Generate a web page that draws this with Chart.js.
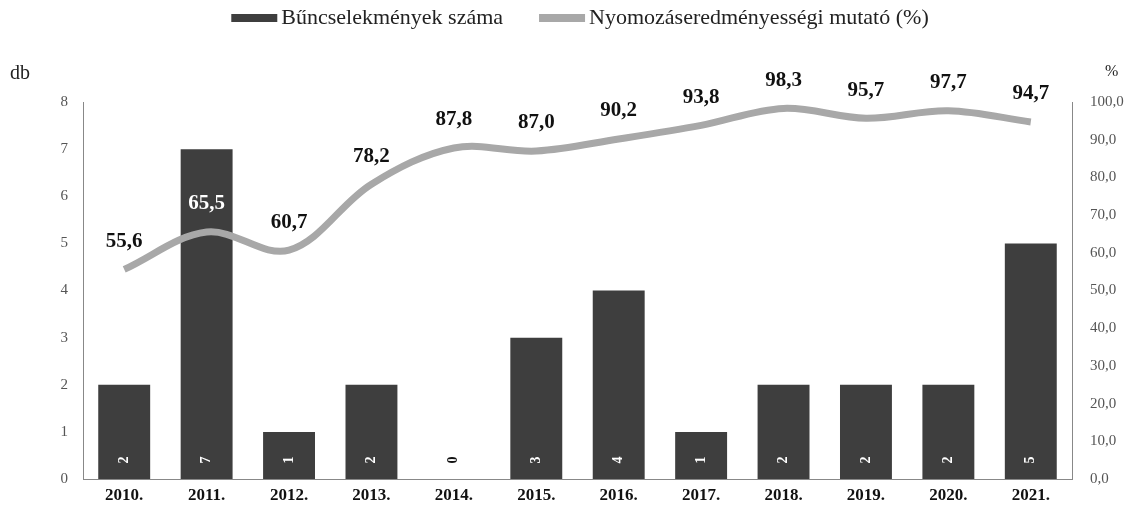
<!DOCTYPE html>
<html><head><meta charset="utf-8">
<style>html,body{margin:0;padding:0;background:#fff}#wrap{width:1134px;height:510px;position:relative}</style>
<script src="https://cdn.jsdelivr.net/npm/chart.js@4/dist/chart.umd.min.js"></script>
</head><body><div id="wrap"><canvas id="c" width="1134" height="510"></canvas></div>
<script>
const categories = ['2010.','2011.','2012.','2013.','2014.','2015.','2016.','2017.','2018.','2019.','2020.','2021.'];
const crimeCounts = [2,7,1,2,0,3,4,1,2,2,2,5];
const clearanceRate = [55.6,65.5,60.7,78.2,87.8,87.0,90.2,93.8,98.3,95.7,97.7,94.7];
const seriesNames = ['Bűncselekmények száma','Nyomozáseredményességi mutató (%)'];
const axisTitles = ['db','%'];

const SERIF = '"Liberation Serif", "DejaVu Serif", serif';
const BAR_COLOR = '#3e3e3e';
const LINE_COLOR = '#a8a8a8';
const fmt1 = v => v.toFixed(1).replace('.', ',');

const legendPlugin = {
  id: 'customLegend',
  afterDraw(chart) {
    const ctx = chart.ctx;
    ctx.save();
    ctx.font = '22px ' + SERIF;
    ctx.textBaseline = 'middle';
    ctx.textAlign = 'left';
    const colors = [BAR_COLOR, LINE_COLOR];
    const items = chart.data.datasets.map((ds, i) => ({ text: ds.label, color: colors[i] }));
    const boxW = 46, boxH = 8, gapBT = 4, gapItems = 36;
    let total = 0;
    items.forEach((it, i) => { it.w = ctx.measureText(it.text).width; total += boxW + gapBT + it.w + (i ? gapItems : 0); });
    let x = 580 - total / 2; const y = 18;
    items.forEach(it => {
      ctx.fillStyle = it.color; ctx.fillRect(x, y - boxH / 2, boxW, boxH);
      x += boxW + gapBT;
      ctx.fillStyle = '#222'; ctx.fillText(it.text, x, y);
      x += it.w + gapItems;
    });
    ctx.restore();
  }
};

const labelPlugin = {
  id: 'valueLabels',
  afterDatasetsDraw(chart) {
    const ctx = chart.ctx;
    const barMeta = chart.getDatasetMeta(0), lineMeta = chart.getDatasetMeta(1);
    const base = chart.scales.y.getPixelForValue(0);
    ctx.save();
    ctx.textAlign = 'center'; ctx.textBaseline = 'middle';
    ctx.font = 'bold 14px ' + SERIF;
    barMeta.data.forEach((el, i) => {
      const v = crimeCounts[i];
      ctx.save();
      ctx.translate(el.x, base - 19);
      ctx.rotate(-Math.PI / 2);
      ctx.fillStyle = v > 0 ? '#ffffff' : '#111111';
      ctx.fillText(String(v), 0, 0);
      ctx.restore();
    });
    ctx.font = 'bold 21px ' + SERIF;
    lineMeta.data.forEach((el, i) => {
      const ly = el.y - 28;
      const bar = barMeta.data[i];
      const inside = crimeCounts[i] > 0 && ly > bar.y && Math.abs(el.x - bar.x) < 30;
      ctx.fillStyle = inside ? '#ffffff' : '#111111';
      ctx.fillText(fmt1(clearanceRate[i]), el.x, ly);
    });
    // axis unit titles
    const ca = chart.chartArea;
    ctx.font = '20px ' + SERIF;
    ctx.fillStyle = '#222';
    ctx.textAlign = 'left';
    ctx.fillText(axisTitles[0], 10, ca.top - 28);
    ctx.font = '16px ' + SERIF;
    ctx.fillText(axisTitles[1], ca.right + 33, ca.top - 30);
    ctx.restore();
  }
};

new Chart(document.getElementById('c'), {
  data: {
    labels: categories,
    datasets: [
      { type: 'bar', label: seriesNames[0], data: crimeCounts, yAxisID: 'y', order: 2,
        backgroundColor: BAR_COLOR, barPercentage: 0.63, categoryPercentage: 1.0 },
      { type: 'line', label: seriesNames[1], data: clearanceRate, yAxisID: 'y1', order: 1,
        borderColor: LINE_COLOR, backgroundColor: LINE_COLOR, borderWidth: 7, tension: 0.35,
        pointRadius: 0, pointHoverRadius: 0, fill: false }
    ]
  },
  options: {
    responsive: false,
    animation: false,
    devicePixelRatio: 1,
    layout: { padding: { top: 102, left: 0, right: 0, bottom: 0 } },
    plugins: { legend: { display: false }, tooltip: { enabled: false } },
    scales: {
      x: {
        offset: true,
        grid: { display: false, drawTicks: false },
        border: { display: true, color: '#888', dash: [1, 3], width: 1 },
        ticks: { color: '#111', font: { family: SERIF, size: 17, weight: 'bold' }, padding: 6, maxRotation: 0 },
        afterFit(s) { s.height = 31; }
      },
      y: {
        position: 'left', min: 0, max: 8,
        grid: { display: false, drawTicks: false },
        border: { display: true, color: '#888', dash: [1, 3], width: 1 },
        ticks: { stepSize: 1, color: '#555', font: { family: SERIF, size: 15 }, padding: 15 },
        afterFit(s) { s.width = 83; }
      },
      y1: {
        position: 'right', min: 0, max: 100,
        grid: { display: false, drawTicks: false },
        border: { display: true, color: '#888', dash: [1, 3], width: 1 },
        ticks: { stepSize: 10, color: '#555', font: { family: SERIF, size: 15 }, padding: 18,
                 callback: v => fmt1(v) },
        afterFit(s) { s.width = 62; }
      }
    }
  },
  plugins: [legendPlugin, labelPlugin]
});
</script>
</body></html>
